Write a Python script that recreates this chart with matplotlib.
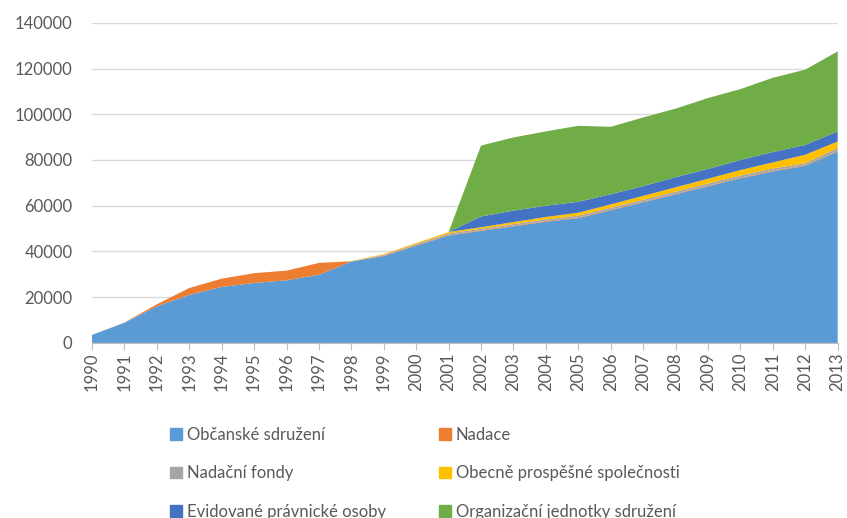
import matplotlib.pyplot as plt
import numpy as np

plt.rcParams['font.family'] = ['Lato', 'DejaVu Sans']

years = list(range(1990, 2014))
obcanske = [3500, 8800, 16000, 21000, 24500, 26200, 27400, 29800, 35600, 38000, 42500, 47000,
            49000, 51000, 53000, 54600, 58000, 61500, 65000, 68500, 72000, 75000, 77500, 83700]
nadace = [0, 100, 900, 3000, 3600, 4300, 4200, 5200, 100, 250, 300, 300,
          300, 300, 300, 300, 300, 300, 300, 300, 300, 300, 300, 300]
nadacni_fondy = [0, 0, 0, 0, 0, 0, 0, 0, 0, 300, 500, 600,
                 600, 650, 700, 750, 800, 800, 850, 900, 900, 950, 800, 1200]
ops = [0, 0, 0, 0, 0, 0, 0, 0, 100, 300, 400, 600,
       700, 900, 1100, 1300, 1500, 1700, 1900, 2100, 2400, 2700, 3700, 2900]
evidovane = [0, 0, 0, 0, 0, 0, 0, 0, 0, 0, 0, 0,
             4700, 5000, 4900, 4800, 4400, 4300, 4400, 4300, 4400, 4500, 4300, 4400]
organizacni = [0, 0, 0, 0, 0, 0, 0, 0, 0, 0, 0, 0,
               31000, 32000, 32500, 33200, 29500, 30000, 30000, 31000, 31000, 32500, 32900, 35000]

labels = ['Občanské sdružení', 'Nadace', 'Nadační fondy',
          'Obecně prospěšné společnosti', 'Evidované právnické osoby',
          'Organizační jednotky sdružení']
colors = ['#5B9BD5', '#ED7D31', '#A5A5A5', '#FFC000', '#4472C4', '#70AD47']

fig = plt.figure(figsize=(8.47, 5.18), dpi=100)
ax = fig.add_axes([0.1086, 0.338, 0.8804, 0.618])

ax.stackplot(years, obcanske, nadace, nadacni_fondy, ops, evidovane, organizacni,
             colors=colors, labels=labels, linewidth=0)

ax.set_xlim(1990, 2013)
ax.set_ylim(0, 140000)
ax.set_yticks(np.arange(0, 140001, 20000))
ax.set_xticks(years)
ax.set_xticklabels([str(y) for y in years], rotation=90)
ax.tick_params(axis='y', length=0, labelsize=12, colors='#595959', pad=14)
ax.tick_params(axis='x', length=5, color='#BFBFBF', labelsize=12, labelcolor='#595959', pad=2)
ax.grid(axis='y', color='#D9D9D9', linewidth=1)
ax.set_axisbelow(True)
for s in ['top', 'right', 'left']:
    ax.spines[s].set_visible(False)
ax.spines['bottom'].set_color('#BFBFBF')

# legend fills row by row like the original: reorder for matplotlib's column-major layout
order = [0, 2, 4, 1, 3, 5]
handles = [plt.Rectangle((0, 0), 1, 1, color=colors[i]) for i in order]
fig.legend(handles, [labels[i] for i in order], ncol=2, loc='upper left',
           bbox_to_anchor=(0.183, 0.205), frameon=False, fontsize=12, labelcolor='#595959',
           handlelength=0.7, handleheight=0.7, handletextpad=0.3, columnspacing=3.2,
           labelspacing=1.35)

fig.savefig('out.png', dpi=100)
